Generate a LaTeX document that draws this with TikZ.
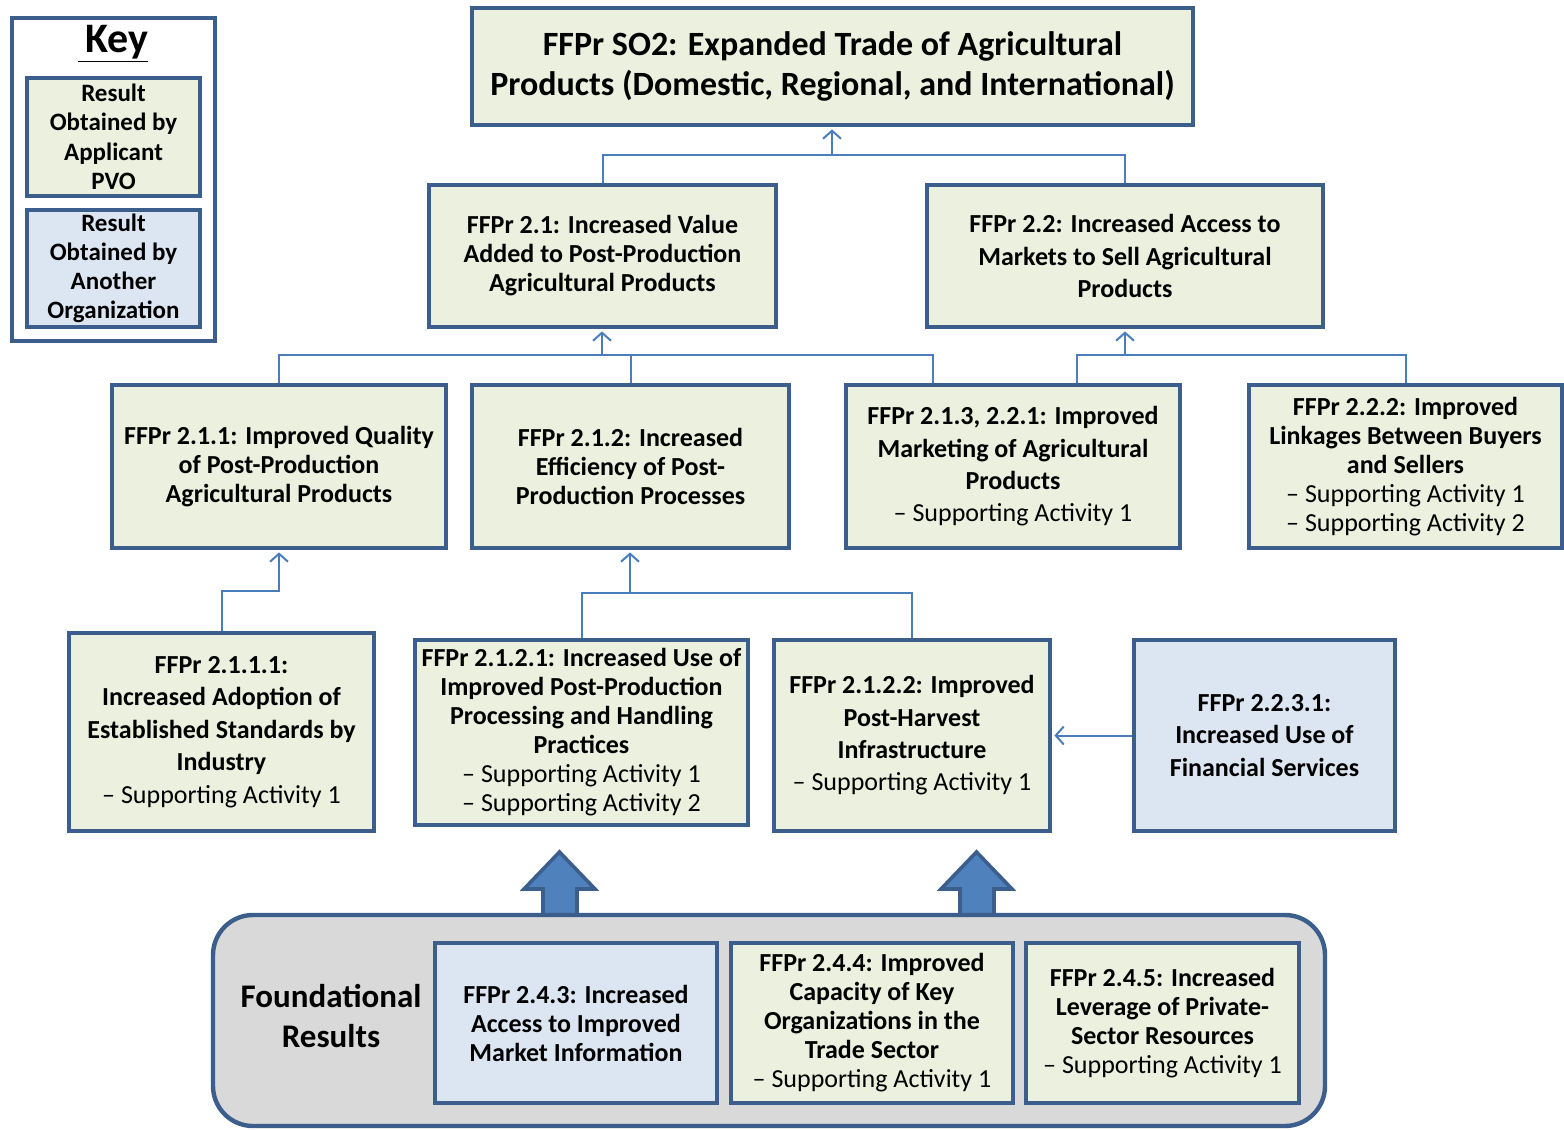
\documentclass[tikz,border=0pt]{standalone}
\usepackage{fontspec}
\setmainfont{Carlito}
\usetikzlibrary{arrows.meta}
\definecolor{bdr}{HTML}{3B5E8C}
\definecolor{lnk}{HTML}{4A7EBB}
\definecolor{fat}{HTML}{4F81BD}
\definecolor{grn}{HTML}{EBF1DE}
\definecolor{blu}{HTML}{DCE6F2}
\definecolor{gry}{HTML}{D9D9D9}
\newcommand{\resbox}[7]{\node[#6, minimum width={0.5pt*(#4-#2)}, minimum height={0.5pt*(#5-#3)}] (#1) at ({(#2+#4)/2},{(#3+#5)/2}) {#7};}
\newcommand{\sact}[1]{\textmd{– Supporting Activity #1}}
\begin{document}
\begin{tikzpicture}[x=0.5pt,y=-0.5pt,
  base/.style={draw=bdr, line width=2.2pt, align=center, inner sep=0pt, font=\bfseries\fontsize{13}{15}\selectfont},
  gbox/.style={base, fill=grn},
  bbox/.style={base, fill=blu},
  loose/.style={font=\bfseries\fontsize{13}{16.2}\selectfont},
  tight/.style={font=\bfseries\fontsize{13}{14.5}\selectfont},
  conn/.style={draw=lnk, line width=1pt},
  arr/.style={conn, shorten >=1.1pt, -{Straight Barb[length=4pt,width=9pt,line width=1pt]}},
  fatarrow/.style={fill=fat, draw=bdr, line width=1.8pt, line join=miter},
]
\useasboundingbox (0,0) rectangle (1564,1130);

% key
\resbox{key}{12}{18}{215}{341}{base, fill=white}{}
\node[font=\bfseries\fontsize{21}{24}\selectfont] (keyt) at (113,44) {\underline{\,Key}};
\resbox{k1}{27}{78}{200}{196}{gbox, font=\bfseries\fontsize{12.5}{14.7}\selectfont}{Result\\Obtained by\\Applicant\\PVO}
\resbox{k2}{27}{210}{200}{327}{bbox, font=\bfseries\fontsize{12.5}{14.5}\selectfont}{Result\\Obtained by\\Another\\Organization}

% top
\resbox{top}{472}{8}{1193}{125}{gbox, font=\bfseries\fontsize{17}{20}\selectfont}{FFPr SO2: Expanded Trade of Agricultural\\Products (Domestic, Regional, and International)}

% level 2
\resbox{b21}{429}{185}{776}{327}{gbox, tight}{FFPr 2.1: Increased Value\\Added to Post-Production\\Agricultural Products}
\resbox{b22}{927}{185}{1323}{327}{gbox, loose}{FFPr 2.2: Increased Access to\\Markets to Sell Agricultural\\Products}

% level 3
\resbox{b211}{112}{385}{446}{548}{gbox, tight}{FFPr 2.1.1: Improved Quality\\of Post-Production\\Agricultural Products}
\resbox{b212}{472}{385}{789}{548}{gbox, tight}{FFPr 2.1.2: Increased\\Efficiency of Post-\\Production Processes}
\resbox{b213}{846}{385}{1180}{548}{gbox, loose}{FFPr 2.1.3, 2.2.1: Improved\\Marketing of Agricultural\\Products\\\sact{1}}
\resbox{b222}{1249}{385}{1562}{548}{gbox, tight}{FFPr 2.2.2: Improved\\Linkages Between Buyers\\and Sellers\\\sact{1}\\\sact{2}}

% level 4
\resbox{b2111}{69}{633}{374}{831}{gbox, loose}{FFPr 2.1.1.1:\\Increased Adoption of\\Established Standards by\\Industry\\\sact{1}}
\resbox{b2121}{415}{640}{748}{825}{gbox, tight}{FFPr 2.1.2.1: Increased Use of\\Improved Post-Production\\Processing and Handling\\Practices\\\sact{1}\\\sact{2}}
\resbox{b2122}{774}{640}{1050}{831}{gbox, loose}{FFPr 2.1.2.2: Improved\\Post-Harvest\\Infrastructure\\\sact{1}}
\resbox{b2231}{1134}{640}{1395}{831}{bbox, loose}{FFPr 2.2.3.1:\\Increased Use of\\Financial Services}

% connectors
\coordinate (j1) at (832,155);
\draw[conn] (b21.north) |- (j1) -| (b22.north);
\draw[arr] (j1) -- (j1 |- top.south);

\coordinate (j2) at (602,355);
\coordinate (j2r) at (933,355);
\draw[conn] (b211.north) |- (j2r) -- (j2r |- b213.north);
\draw[conn] (b212.north) -- (b212.north |- j2);
\draw[arr] (j2) -- (j2 |- b21.south);

\coordinate (j3) at (1125,355);
\coordinate (j3l) at (1077,355);
\draw[conn] (j3l |- b213.north) -- (j3l) -| (b222.north);
\draw[arr] (j3) -- (j3 |- b22.south);

\coordinate (j4) at (279,591);
\draw[arr] (b2111.north) |- (j4) -- (j4 |- b211.south);

\coordinate (j5) at (630,593);
\draw[conn] (b2121.north) |- (j5) -| (b2122.north);
\draw[arr] (j5) -- (j5 |- b212.south);

\draw[arr] (b2231.west) -- (b2231.west -| b2122.east);

% fat arrows
\draw[fatarrow] (543,915) -- (543,889) -- (524,889) -- (559.5,852) -- (595,889) -- (577,889) -- (577,915) -- cycle;
\draw[fatarrow] (960,915) -- (960,889) -- (941,889) -- (976.5,852) -- (1012,889) -- (994,889) -- (994,915) -- cycle;

% foundational
\resbox{fnd}{213}{915}{1325}{1126}{base, fill=gry, rounded corners=20pt}{}
\node[font=\bfseries\fontsize{16.5}{20}\selectfont, align=center] (fndt) at (331,1016) {Foundational\\Results};
\resbox{b243}{435}{943}{717}{1103}{bbox, tight}{FFPr 2.4.3: Increased\\Access to Improved\\Market Information}
\resbox{b244}{731}{943}{1013}{1103}{gbox, tight}{FFPr 2.4.4: Improved\\Capacity of Key\\Organizations in the\\Trade Sector\\\sact{1}}
\resbox{b245}{1026}{943}{1299}{1103}{gbox, tight}{FFPr 2.4.5: Increased\\Leverage of Private-\\Sector Resources\\\sact{1}}
\end{tikzpicture}
\end{document}
